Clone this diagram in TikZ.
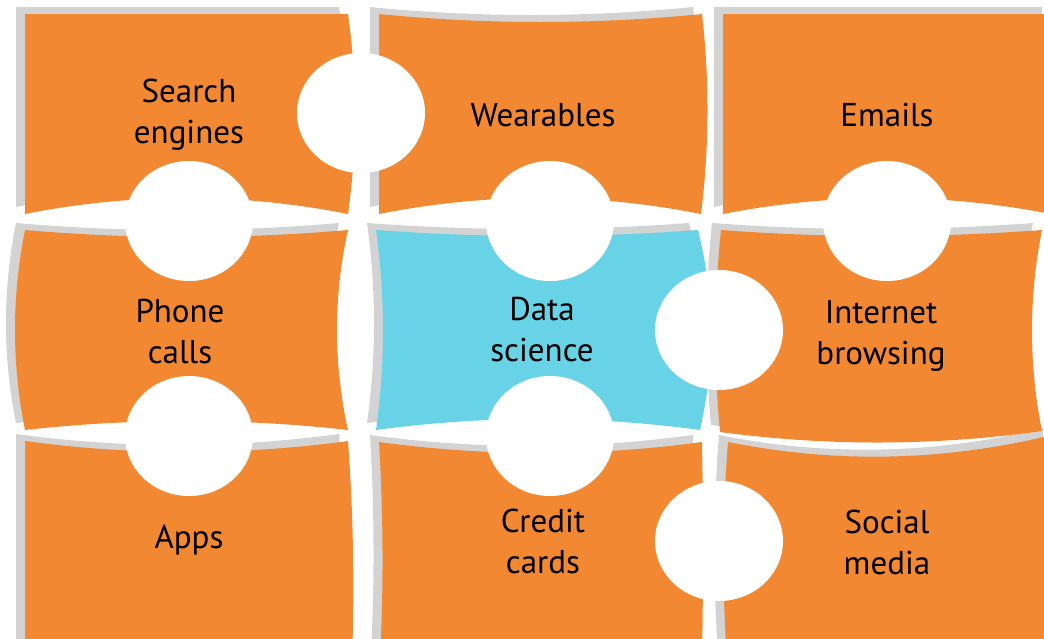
\documentclass[tikz,border=0pt]{standalone}
\usepackage{fontspec}
\setmainfont{PT Sans}
\usetikzlibrary{calc}

\definecolor{pieceorange}{HTML}{F28832}
\definecolor{pieceblue}{HTML}{68D3E6}
\definecolor{shadowgray}{HTML}{D3D3D3}

% One puzzle piece: four corners (TL, TR, BR, BL) and the outward
% bulge of the top, right, bottom and left edges; #9 is the fill style.
\newcommand\puzzlepiece[9]{%
  \fill[#9] (#1)
    .. controls ($(#1)!1/3!(#2)+(0,{-4/3*(#5)})$) and ($(#1)!2/3!(#2)+(0,{-4/3*(#5)})$) .. (#2)
    .. controls ($(#2)!1/3!(#3)+({4/3*(#6)},0)$) and ($(#2)!2/3!(#3)+({4/3*(#6)},0)$) .. (#3)
    .. controls ($(#3)!1/3!(#4)+(0,{4/3*(#7)})$) and ($(#3)!2/3!(#4)+(0,{4/3*(#7)})$) .. (#4)
    .. controls ($(#4)!1/3!(#1)+({-4/3*(#8)},0)$) and ($(#4)!2/3!(#1)+({-4/3*(#8)},0)$) .. (#1) -- cycle;}

% The nine pieces; #1 styles the outer pieces, #2 the centre piece.
\newcommand\allpieces[2]{%
  \puzzlepiece{25,14}{348,14}{348,214}{25,214}{0}{7}{-16}{0}{#1}
  \puzzlepiece{379,14}{702,14}{701,214}{379,214}{-8}{6}{-16}{0}{#1}
  \puzzlepiece{723,14}{1051,14}{1051,214}{723,214}{0}{0}{-16}{0}{#1}
  \puzzlepiece{25,230}{348,230}{348,430}{25,430}{-7}{-11}{-9}{10}{#1}
  \puzzlepiece{376,230}{698,230}{700,430}{376,430}{-6}{12}{-11}{-7}{#2}
  \puzzlepiece{721,230}{1042,230}{1042,431}{720,432}{-6}{-10}{11}{5}{#1}
  \puzzlepiece{25,441}{348,441}{352,660}{25,660}{-11}{3}{0}{0}{#1}
  \puzzlepiece{379,442}{702,442}{702,660}{380,660}{-11}{1}{0}{-3}{#1}
  \puzzlepiece{728,442}{1052,435}{1052,660}{727,660}{-18}{0}{0}{4}{#1}
}

\begin{document}
\begin{tikzpicture}[x=1pt, y=-1pt,
  shadowfill/.style={fill=shadowgray, transform canvas={shift={(-9pt,7pt)}}},
  orangefill/.style={fill=pieceorange},
  bluefill/.style={fill=pieceblue},
  piecetext/.style={font=\fontsize{33}{41}\selectfont, align=center,
    text height=24pt, text depth=7pt, inner sep=0pt, text=black}]
  \useasboundingbox (0,0) rectangle (1044,638);
  \clip (0,0) rectangle (1044,638);

  % shadows first, then the pieces on top
  \allpieces{shadowfill}{shadowfill}
  \allpieces{orangefill}{bluefill}

  % round knobs where the pieces meet
  \foreach \cx/\cy in {361/113, 189/221, 550/221, 887/221, 719/330,
                       189/436, 550/436, 719/541}
    \fill[white] (\cx,\cy) ellipse [x radius=64pt, y radius=60pt];

  \node[piecetext] (search)   at (189,135) {Search\\engines};
  \node[piecetext] (wear)     at (543,117.5) {Wearables};
  \node[piecetext] (emails)   at (887,117.5) {Emails};
  \node[piecetext] (phone)    at (180,355) {Phone\\calls};
  \node[piecetext] (data)     at (542,353) {Data\\science};
  \node[piecetext] (internet) at (881,356) {Internet\\browsing};
  \node[piecetext] (apps)     at (189,539.5) {Apps};
  \node[piecetext] (credit)   at (543,565) {Credit\\cards};
  \node[piecetext] (social)   at (887,566) {Social\\media};
\end{tikzpicture}
\end{document}
